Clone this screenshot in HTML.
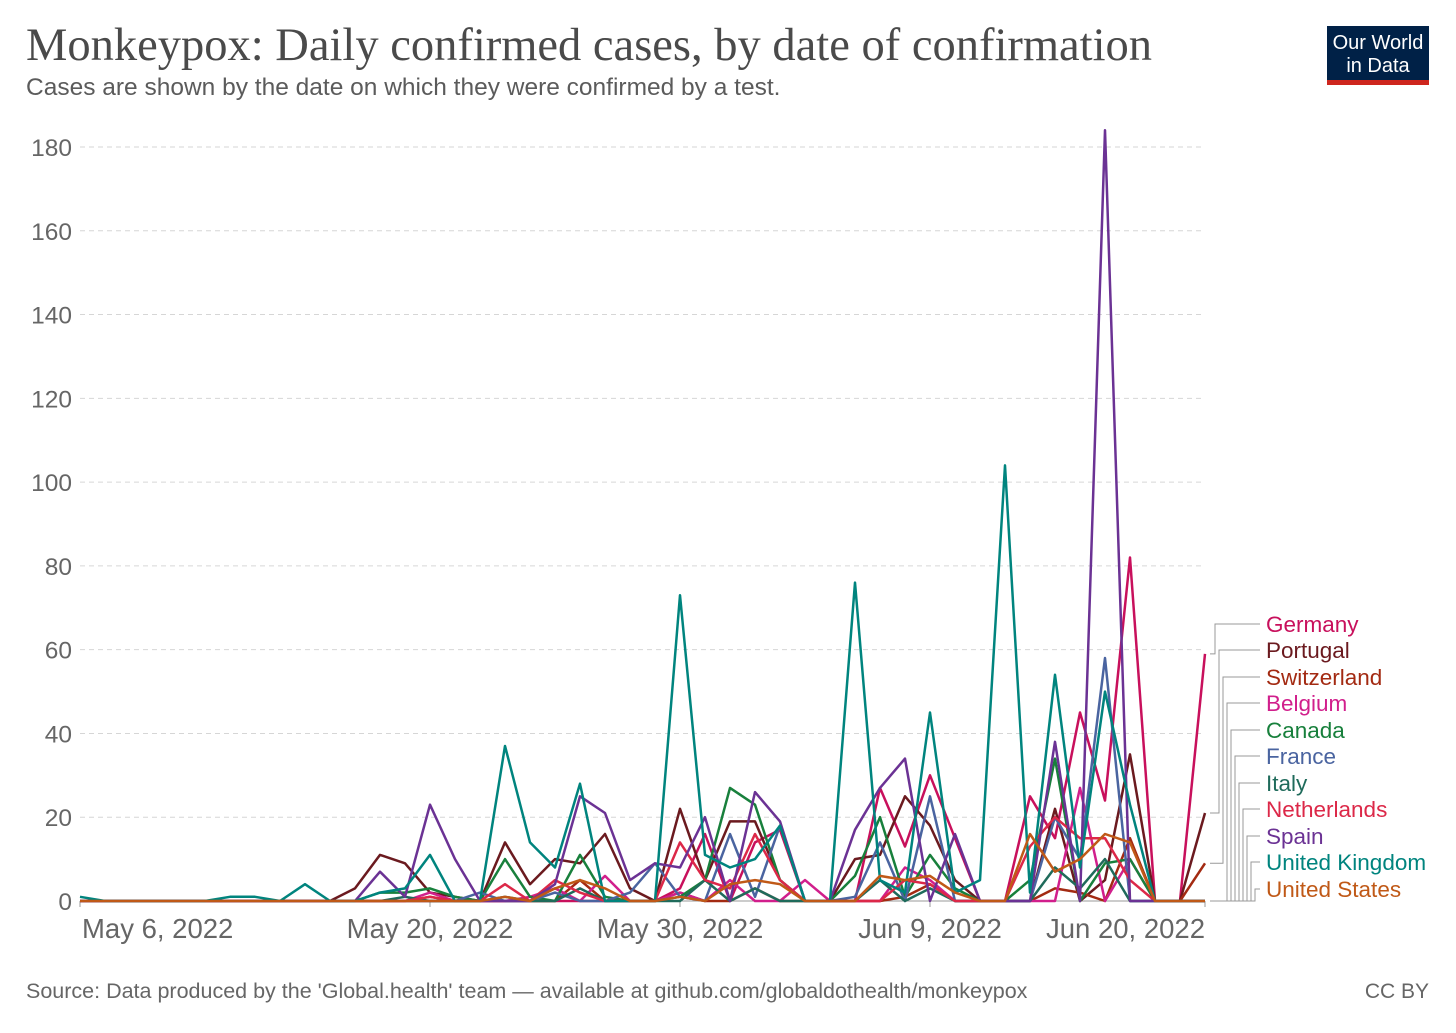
<!DOCTYPE html>
<html><head><meta charset="utf-8">
<style>
body{margin:0;background:#fff;width:1456px;height:1028px;overflow:hidden;font-family:"Liberation Sans",sans-serif;}
</style></head>
<body>
<svg id="chart" width="1456" height="1028" viewBox="0 0 1456 1028" xmlns="http://www.w3.org/2000/svg">
<text x="26" y="60" font-family="Liberation Serif,serif" font-size="46.5" fill="#4a4a4a">Monkeypox: Daily confirmed cases, by date of confirmation</text>
<text x="26" y="95" font-size="24.5" fill="#5b5b5b">Cases are shown by the date on which they were confirmed by a test.</text>
<g>
<rect x="1327" y="26" width="102" height="54" fill="#002147"/>
<rect x="1327" y="80" width="102" height="5" fill="#ce261e"/>
<text x="1378" y="49" text-anchor="middle" font-size="20" fill="#fff">Our World</text>
<text x="1378" y="72" text-anchor="middle" font-size="20" fill="#fff">in Data</text>
</g>
<g id="grid"></g>
<g id="yticks"></g>
<g id="xticks"></g>
<g id="lines"></g>
<g id="legend"></g>
<text x="26" y="998" font-size="21.5" fill="#666">Source: Data produced by the 'Global.health' team — available at github.com/globaldothealth/monkeypox</text>
<text x="1429" y="998" text-anchor="end" font-size="21" fill="#666">CC BY</text>
</svg>
<script>
const yTicks=[0,20,40,60,80,100,120,140,160,180];
const xLabels=["May 6, 2022","May 20, 2022","May 30, 2022","Jun 9, 2022","Jun 20, 2022"];
const xLabelDays=[0,14,24,34,45];
const names=["Germany","Portugal","Switzerland","Belgium","Canada","France","Italy","Netherlands","Spain","United Kingdom","United States"];
const colors=["#c8105c","#6b1a1f","#a32a12","#d11f8c","#18803c","#4a64a0","#1f6b5b","#dc2848","#6b3294","#00847e","#c05917"];
const germany=[0,0,0,0,0,0,0,0,0,0, 0,0,0,0,0,0,0,0,0,0, 0,0,0,0,3,16,0,14,17,0, 0,0,27,13,30,15,0,0,25,15, 45,24,82,0,0,59];
const portugal=[0,0,0,0,0,0,0,0,0,0, 0,3,11,9,2,1,0,14,4,10, 9,16,3,0,22,5,19,19,5,0, 0,10,11,25,18,5,0,0,0,22, 0,5,35,0,0,21];
const switzerland=[0,0,0,0,0,0,0,0,0,0, 0,0,0,0,1,0,0,0,0,0, 5,0,0,0,2,0,0,3,0,0, 0,0,0,1,4,0,0,0,0,3, 2,0,15,0,0,9];
const belgium=[0,0,0,0,0,0,0,0,0,0, 0,0,0,0,2,0,0,0,1,3, 0,6,0,0,2,0,5,0,0,5, 0,0,0,8,5,0,0,0,0,0, 27,0,10,0,0,0];
const canada=[0,0,0,0,0,0,0,0,0,0, 0,0,2,2,3,1,0,10,1,0, 11,1,0,0,1,5,27,23,5,0, 0,6,20,1,11,3,0,0,5,34, 0,9,10,0,0,0];
const france=[0,0,0,0,0,0,0,0,0,0, 0,0,0,0,0,0,2,0,0,2, 0,0,2,9,1,0,16,1,18,0, 0,1,14,0,25,0,0,0,0,20, 10,58,0,0,0,0];
const italy=[0,0,0,0,0,0,0,0,0,0, 0,0,0,1,0,0,0,1,0,0, 3,0,0,0,0,5,0,3,0,0, 0,0,5,0,3,0,0,0,0,8, 3,10,0,0,0,0];
const netherlands=[0,0,0,0,0,0,0,0,0,0, 0,0,0,0,1,0,0,4,0,5, 2,0,0,0,14,5,3,16,5,0, 0,0,0,5,4,0,0,0,13,20, 15,15,5,0,0,0];
const spain=[0,0,0,0,0,0,0,0,0,0, 0,0,7,1,23,10,0,0,0,4, 25,21,5,9,8,20,0,26,19,0, 0,17,27,34,0,16,0,0,0,38, 0,184,0,0,0,0];
const uk=[1,0,0,0,0,0,1,1,0,4, 0,0,2,3,11,0,0,37,14,8, 28,0,0,0,73,11,8,10,18,0, 0,76,5,2,45,2,5,104,2,54, 8,50,23,0,0,0];
const us=[0,0,0,0,0,0,0,0,0,0, 0,0,0,0,0,0,0,1,0,3, 5,3,0,0,1,0,4,5,4,0, 0,0,6,5,6,2,0,0,16,7, 10,16,14,0,0,0];
const series=[germany,portugal,switzerland,belgium,canada,france,italy,netherlands,spain,uk,us];
const NS="http://www.w3.org/2000/svg";
const X0=80,DX=25,Y0=901,YS=754/180;
const xs=d=>X0+d*DX, ys=v=>Y0-v*YS;
function mk(tag,attrs,parent){const e=document.createElementNS(NS,tag);for(const k in attrs)e.setAttribute(k,attrs[k]);parent.appendChild(e);return e;}
const grid=document.getElementById('grid'),yt=document.getElementById('yticks'),xt=document.getElementById('xticks'),lines=document.getElementById('lines'),leg=document.getElementById('legend');
yTicks.forEach(t=>{
  const l=mk('line',{x1:80,x2:1205,y1:ys(t),y2:ys(t),stroke:t===0?'#999':'#d6d6d6','stroke-dasharray':t===0?'':'5,4','stroke-width':1},grid);
  
  
  const tx=mk('text',{x:72,y:ys(t)+9,'text-anchor':'end','font-size':24.5,fill:'#666'},yt);
  tx.textContent=t;
  
  
});
xLabels.forEach((lab,i)=>{
  const d=xLabelDays[i];
  mk('line',{x1:xs(d),x2:xs(d),y1:901,y2:907,stroke:'#999'},xt);
  const anchor=i===0?'start':(i===xLabels.length-1?'end':'middle');
  const tx=mk('text',{x:i===0?82:xs(d),y:938,'text-anchor':anchor,'font-size':27.5,fill:'#666'},xt);
  tx.textContent=lab;
  
  
});
series.forEach((s,k)=>{
  const p=s.map((v,i)=>(i?'L':'M')+xs(i)+','+ys(v).toFixed(1)).join('');
  const path=mk('path',{d:p,fill:'none',stroke:colors[k],'stroke-width':2.5,'stroke-linejoin':'round'},lines);
  
  
});
const labY=[624,650,677,703,730,756,783,809,836,862,889];
series.forEach((s,k)=>{
  const ey=ys(s[s.length-1]);
  const vx=1215+k*4;
  const pl=mk('polyline',{points:`1210,${ey} ${vx},${ey} ${vx},${labY[k]} 1260,${labY[k]}`,fill:'none',stroke:'#999','stroke-width':1},leg);
  
  
  const tx=mk('text',{x:1266,y:labY[k]+8,'font-size':22.5,fill:colors[k]},leg);
  tx.textContent=names[k];
  
  
});
</script>
</body></html>
